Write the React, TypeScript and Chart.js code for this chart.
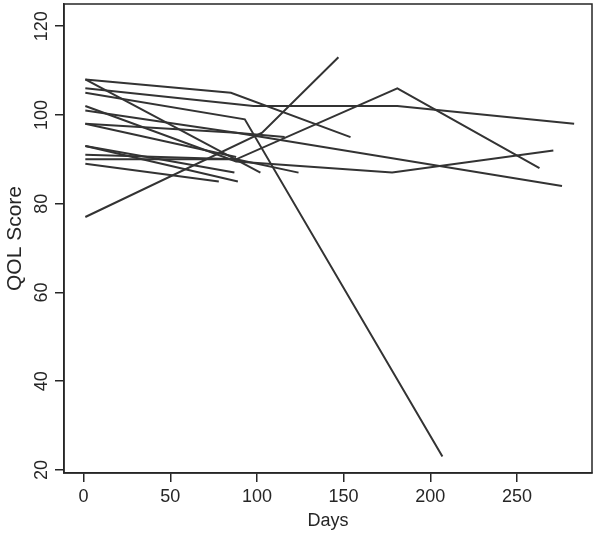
import React, { useEffect, useRef } from "react";
import { Chart, registerables } from "chart.js";

Chart.register(...registerables);

// One array of visit days and one of QOL scores per subject
const subjectIds = ["S01", "S02", "S03", "S04", "S05", "S06", "S07", "S08", "S09", "S10", "S11", "S12", "S13", "S14"];
const daysBySubject: number[][] = [
  [1, 85, 154],
  [1, 102],
  [1, 98, 181, 283],
  [1, 93, 207],
  [1, 88, 178, 271],
  [1, 88],
  [1, 88, 116],
  [1, 88, 276],
  [1, 87],
  [1, 89],
  [1, 88, 181, 263],
  [1, 88, 124],
  [1, 78],
  [1, 103, 147],
];
const qolBySubject: number[][] = [
  [108, 105, 95],
  [108, 87],
  [106, 102, 102, 98],
  [105, 99, 23],
  [102, 89.5, 87, 92],
  [98, 90.5],
  [98, 96, 95],
  [101, 96, 84],
  [93, 87],
  [93, 85],
  [91, 90, 106, 88],
  [90, 90, 87],
  [89, 85],
  [77, 96, 113],
];
const xTickValues = [0, 50, 100, 150, 200, 250];
const yTickValues = [20, 40, 60, 80, 100, 120];
const xTitle = "Days";
const yTitle = "QOL Score";

const INK = "#262626";
const LINE = "#333333";
const FONT = "'Liberation Sans', Arial, Helvetica, sans-serif";

export default function App() {
  const ref = useRef<HTMLCanvasElement | null>(null);

  useEffect(() => {
    document.body.style.margin = "0";
    const canvas = ref.current;
    if (!canvas) return;

    const boxPlugin = {
      id: "rbox",
      afterDraw(chart: any) {
        const { ctx, chartArea: a, scales } = chart;
        ctx.save();
        ctx.strokeStyle = INK;
        ctx.lineWidth = 1.5;
        ctx.strokeRect(a.left, a.top, a.right - a.left, a.bottom - a.top);
        const ys = scales.y;
        ctx.fillStyle = INK;
        ctx.font = `18px ${FONT}`;
        ctx.textAlign = "center";
        ctx.textBaseline = "middle";
        ys.ticks.forEach((t: any) => {
          const py = ys.getPixelForValue(t.value);
          ctx.save();
          ctx.translate(42, py);
          ctx.rotate(-Math.PI / 2);
          ctx.fillText(String(t.value), 0, 0);
          ctx.restore();
        });
        ctx.restore();
      },
    };

    const datasets = subjectIds.map((id, i) => ({
      label: id,
      data: daysBySubject[i].map((d, j) => ({ x: d, y: qolBySubject[i][j] })),
      borderColor: LINE,
      borderWidth: 2,
      pointRadius: 0,
      fill: false,
      tension: 0,
    }));

    const chart = new Chart(canvas, {
      type: "line",
      data: { datasets },
      options: {
        animation: false,
        responsive: false,
        devicePixelRatio: 1,
        layout: { padding: { top: 4, right: 8, left: 0, bottom: 0 } },
        plugins: { legend: { display: false }, tooltip: { enabled: false } },
        scales: {
          x: {
            type: "linear",
            min: -11.3,
            max: 293.3,
            afterBuildTicks: (s: any) => {
              s.ticks = xTickValues.map((v) => ({ value: v }));
            },
            afterFit: (s: any) => {
              s.height = 65;
            },
            grid: { drawOnChartArea: false, drawTicks: true, tickLength: 9, color: INK, lineWidth: 1.5 },
            border: { display: true, color: INK, width: 1.5 },
            ticks: {
              color: INK,
              font: { size: 18, family: FONT },
              padding: 4,
              maxRotation: 0,
              autoSkip: false,
            },
            title: {
              display: true,
              text: xTitle,
              color: INK,
              font: { size: 18, family: FONT },
              padding: { top: 0, bottom: 6 },
            },
          },
          y: {
            type: "linear",
            min: 19.3,
            max: 125,
            afterBuildTicks: (s: any) => {
              s.ticks = yTickValues.map((v) => ({ value: v }));
            },
            afterFit: (s: any) => {
              s.width = 64;
            },
            grid: { drawOnChartArea: false, drawTicks: true, tickLength: 9, color: INK, lineWidth: 1.5 },
            border: { display: true, color: INK, width: 1.5 },
            ticks: { display: false },
            title: {
              display: true,
              text: yTitle,
              color: INK,
              font: { size: 21, family: FONT },
              padding: { top: 3, bottom: 0 },
            },
          },
        },
      },
      plugins: [boxPlugin],
    } as any);

    return () => chart.destroy();
  }, []);

  return (
    <div style={{ width: 600, height: 538 }}>
      <canvas ref={ref} width={600} height={538} style={{ display: "block" }} />
    </div>
  );
}
